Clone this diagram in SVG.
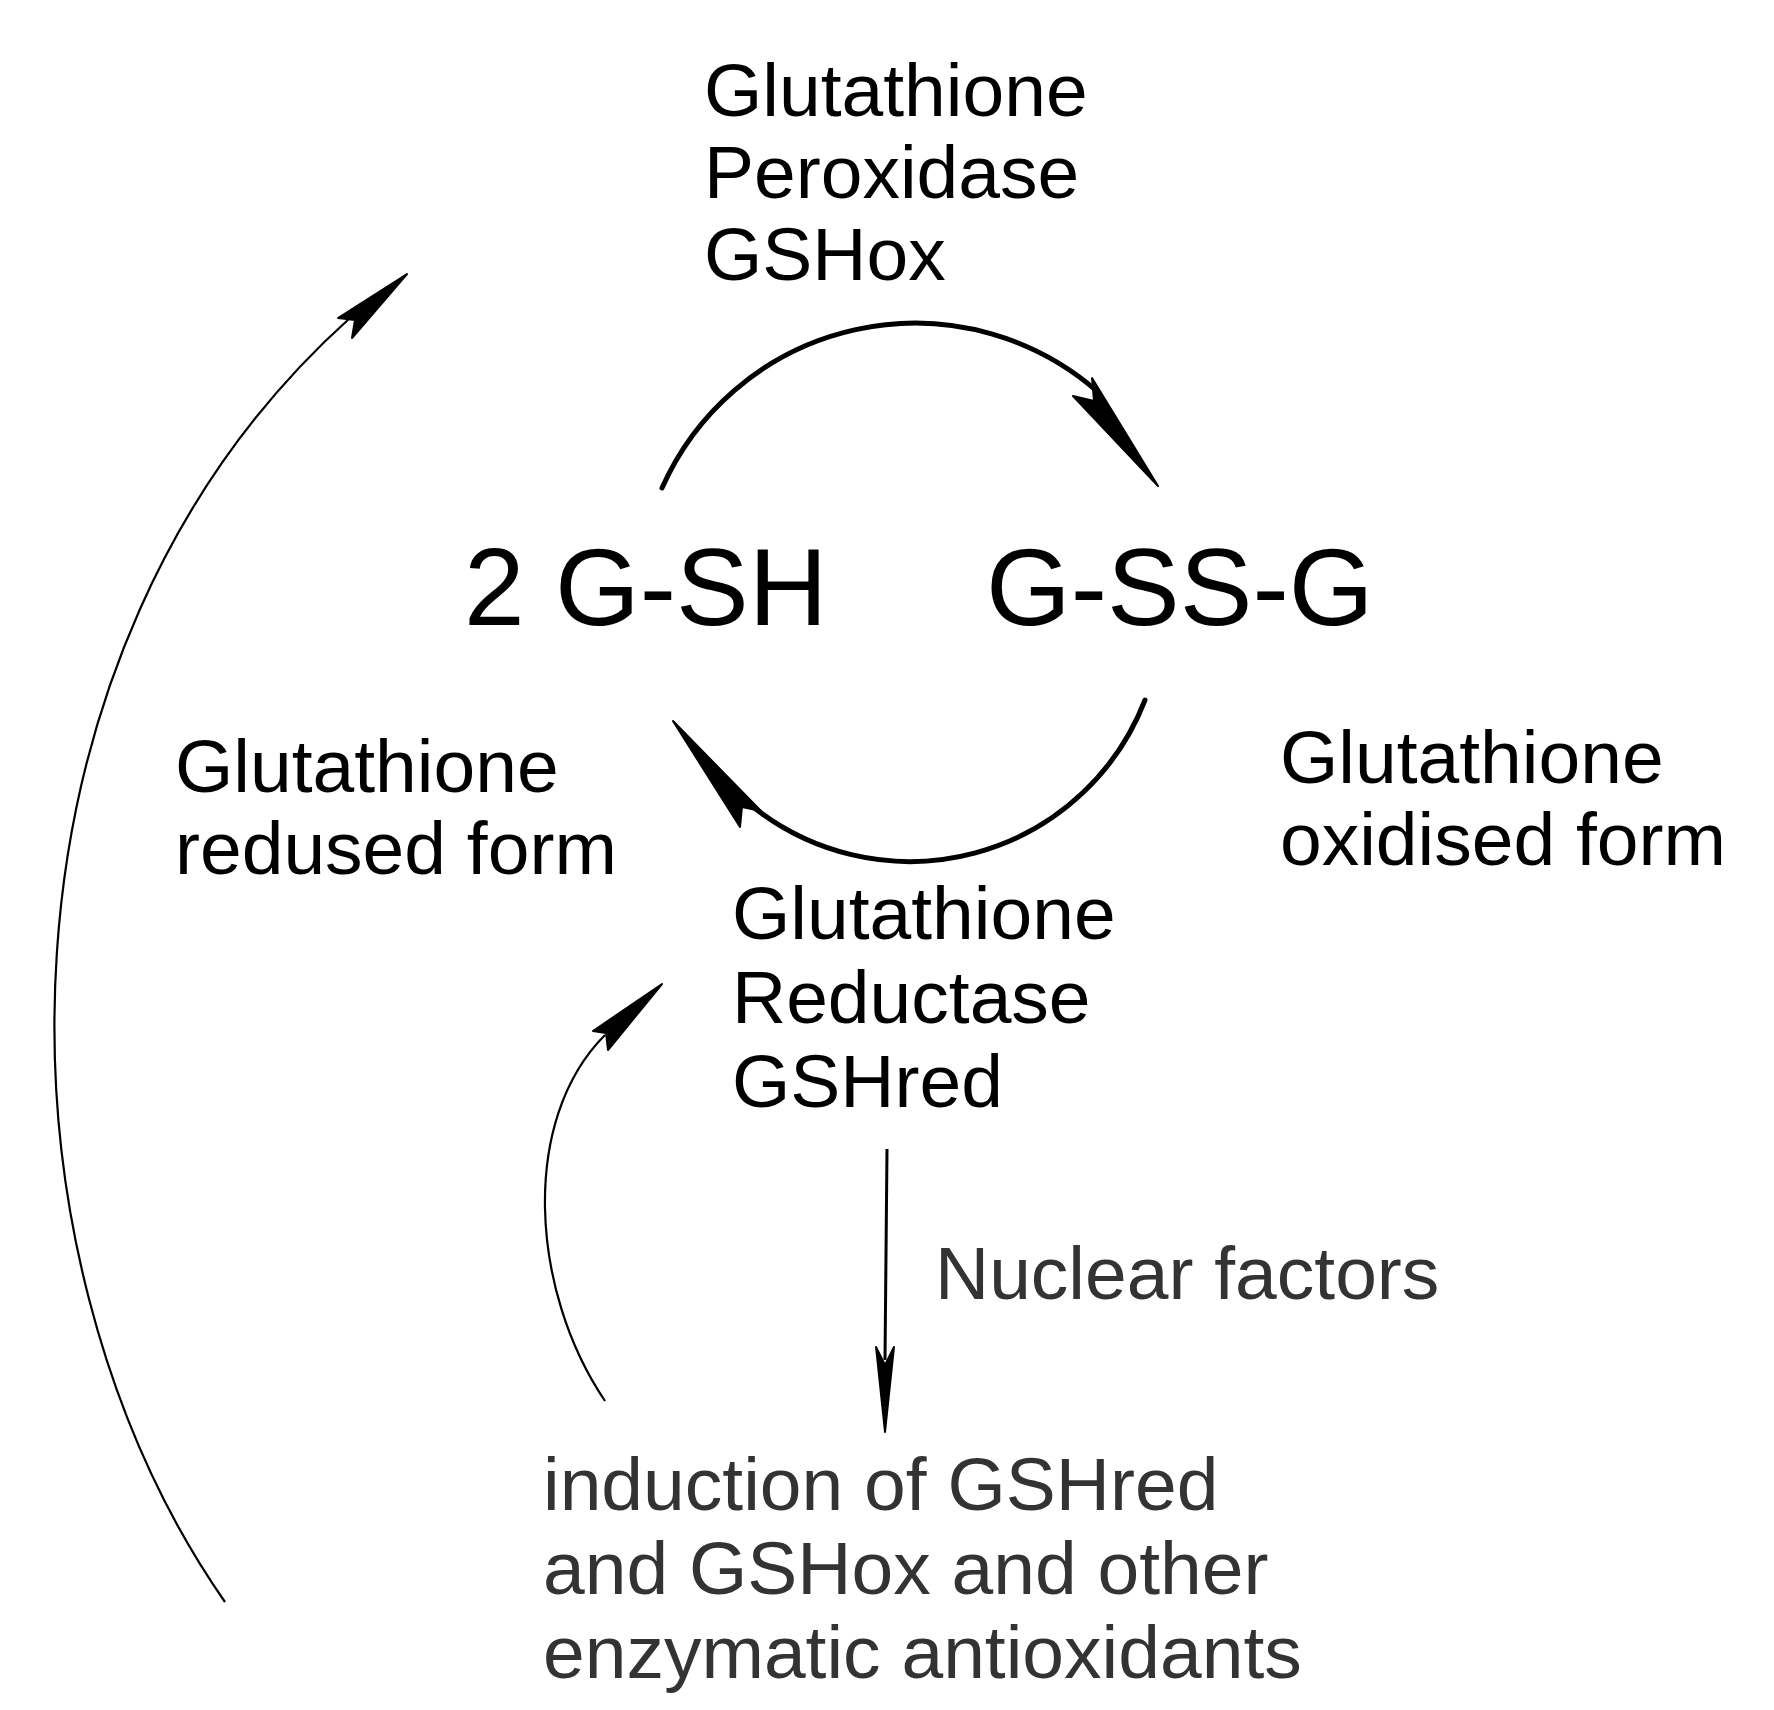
<svg xmlns="http://www.w3.org/2000/svg" width="1774" height="1710" viewBox="0 0 1774 1710">
<style>
text{font-family:"Liberation Sans",Arial,sans-serif;fill:#000}
.lab{font-size:75px}
.big{font-size:109px}
.gray{fill:#333;font-size:75px}
.thick{fill:none;stroke:#000;stroke-width:5;stroke-linecap:round}
.thin{fill:none;stroke:#000;stroke-width:2.2}
.head{fill:#000;stroke:#000;stroke-width:2;stroke-linejoin:round}
</style>
<rect width="1774" height="1710" fill="#fff"/>
<g id="connectors">
<path class="thick" d="M662,488 A277,277 0 0 1 1098,392"/>
<polygon class="head" points="1158,486 1092,378 1094,401 1073,396"/>
<path class="thick" d="M1145,700 A252,252 0 0 1 752,806"/>
<polygon class="head" points="673,721 761,811 742,807 740,827"/>
<path class="thin" d="M225,1602 C-20,1250 -20,650 350,318"/>
<polygon class="head" points="407,274 338,318 355,320 352,338"/>
<path class="thin" d="M605,1401 C530,1290 520,1120 605,1035"/>
<polygon class="head" points="662,984 593,1031 606,1033 608,1050"/>
<line class="thin" x1="887" y1="1149" x2="885" y2="1360" style="stroke-width:3"/>
<polygon class="head" points="885,1432 876,1347 885,1365 894,1347"/>
</g>
<g id="gpx"><text class="lab" x="704" y="116">Glutathione</text><text class="lab" x="704" y="198">Peroxidase</text><text class="lab" x="704" y="280">GSHox</text></g>
<g id="gsh"><text class="big" x="464" y="625">2 G-SH</text></g>
<g id="gssg"><text class="big" x="986" y="625">G-SS-G</text></g>
<g id="reduced"><text class="lab" x="175" y="792">Glutathione</text><text class="lab" x="175" y="874">redused form</text></g>
<g id="oxidised"><text class="lab" x="1280" y="783">Glutathione</text><text class="lab" x="1280" y="865">oxidised form</text></g>
<g id="gr"><text class="lab" x="732" y="939">Glutathione</text><text class="lab" x="732" y="1023">Reductase</text><text class="lab" x="732" y="1107">GSHred</text></g>
<g id="nuclear"><text class="gray" x="935" y="1299">Nuclear factors</text></g>
<g id="induction"><text class="gray" x="543" y="1510">induction of GSHred</text><text class="gray" x="543" y="1594">and GSHox and other</text><text class="gray" x="543" y="1678">enzymatic antioxidants</text></g>
</svg>
